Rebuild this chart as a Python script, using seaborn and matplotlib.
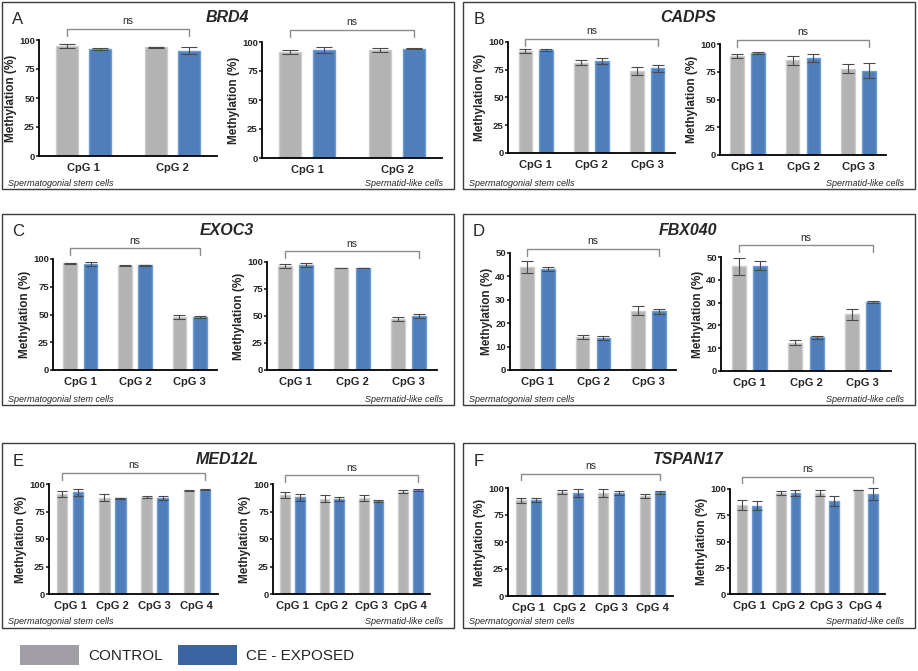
import pandas as pd
import seaborn as sns
import matplotlib.pyplot as plt
from matplotlib.patches import Rectangle, Patch

# ---- data ----
genes = ['BRD4', 'CADPS', 'EXOC3', 'FBX040', 'MED12L', 'TSPAN17']
letters = ['A', 'B', 'C', 'D', 'E', 'F']
cpg_sites = [
    ['CpG 1', 'CpG 2'],
    ['CpG 1', 'CpG 2', 'CpG 3'],
    ['CpG 1', 'CpG 2', 'CpG 3'],
    ['CpG 1', 'CpG 2', 'CpG 3'],
    ['CpG 1', 'CpG 2', 'CpG 3', 'CpG 4'],
    ['CpG 1', 'CpG 2', 'CpG 3', 'CpG 4'],
]
y_max = [100, 100, 100, 50, 100, 100]

# spermatogonial stem cells
ssc_control = [[94.8, 93.7], [91.8, 81.3, 74.3], [96.1, 94.0, 47.3],
               [44.0, 14.1, 25.4], [90.9, 87.5, 88.4, 93.9], [88.5, 96.5, 95.3, 92.9]]
ssc_control_err = [[1.5, 0.4], [2.0, 2.3, 3.6], [0.5, 0.3, 1.8],
                   [2.5, 1.0, 2.0], [2.3, 3.0, 0.7, 0.5], [2.2, 1.7, 4.0, 1.9]]
ssc_exposed = [[92.2, 90.8], [93.0, 82.8, 76.4], [95.5, 94.3, 47.6],
               [43.1, 13.6, 25.1], [92.4, 87.2, 87.2, 94.8], [89.1, 95.3, 95.3, 96.0]]
ssc_exposed_err = [[0.5, 2.9], [1.0, 2.4, 3.2], [1.6, 0.3, 0.6],
                   [0.9, 0.9, 1.0], [3.0, 0.5, 1.5, 0.5], [1.7, 3.4, 2.2, 1.6]]

# spermatid-like cells
spt_control = [[91.4, 93.1], [88.9, 85.2, 77.7], [96.0, 94.4, 47.2],
               [45.9, 12.5, 24.8], [89.9, 86.6, 87.2, 93.0], [84.8, 95.9, 95.9, 99.0]]
spt_control_err = [[2.0, 1.3], [1.7, 3.9, 4.2], [2.0, 0.4, 1.8],
                   [3.7, 0.9, 2.3], [2.7, 3.2, 2.4, 1.2], [4.7, 1.9, 2.7, 0.3]]
spt_exposed = [[93.1, 94.0], [92.2, 87.3, 75.9], [96.9, 94.4, 49.7],
               [46.2, 14.7, 30.2], [87.8, 86.3, 84.8, 94.5], [84.2, 95.9, 88.9, 95.3]]
spt_exposed_err = [[3.0, 0.4], [1.0, 3.3, 6.9], [1.8, 0.4, 2.0],
                   [2.0, 0.6, 0.3], [3.0, 2.1, 0.9, 0.7], [4.3, 2.7, 4.7, 5.8]]

groups = ['CONTROL', 'CE - EXPOSED']

# ---- layout (pixels) ----
W, H = 918, 671
panel_boxes = [(2, 2, 454, 189), (463, 2, 915, 189),
               (2, 214, 454, 405), (463, 214, 915, 405),
               (2, 443, 454, 628), (463, 443, 915, 628)]
axes_px = [
    [(39, 40, 217, 156), (262, 42, 442, 158)],
    [(508, 42, 675, 153), (720, 44, 886, 155)],
    [(53, 259, 217, 370), (267, 262, 437, 370)],
    [(510, 253, 676, 370), (721, 257, 891, 371)],
    [(49, 484, 218, 594), (273, 484, 430, 594)],
    [(508, 488, 673, 596), (730, 489, 885, 594)],
]
bracket_frac = [(1.095, 1.103), (1.027, 1.036), (1.096, 1.099),
                (1.034, 1.102), (1.10, 1.079), (1.13, 1.117)]
capsizes = {2: 6, 3: 4.5, 4: 3.5}

bar_gray, bar_blue = '#b3b3b3', '#4f7eba'
edge_gray, edge_blue = '#cdcdcd', '#6e9dd6'

sns.set_style('white')
plt.rcParams['font.family'] = ['Liberation Sans', 'DejaVu Sans']


def px_rect(x0, y0, x1, y1):
    return [x0 / W, 1 - y1 / H, (x1 - x0) / W, (y1 - y0) / H]


def draw_bars(ax, sites, ctrl, ctrl_err, ce, ce_err, ymax, bfrac):
    n = len(sites)
    df = pd.DataFrame({'CpG': sites * 2,
                       'Group': [groups[0]] * n + [groups[1]] * n,
                       'Methylation': ctrl + ce})
    sns.barplot(data=df, x='CpG', y='Methylation', hue='Group',
                palette=[bar_gray, bar_blue], saturation=1, width=0.75, gap=0.34,
                errorbar=None, legend=False, ax=ax, linewidth=1)
    for cont, edge, errs in zip(ax.containers, [edge_gray, edge_blue], [ctrl_err, ce_err]):
        for bar, e in zip(cont, errs):
            bar.set_edgecolor(edge)
            xc = bar.get_x() + bar.get_width() / 2
            ax.errorbar(xc, bar.get_height(), yerr=e, fmt='none', ecolor='#4a4a4a',
                        elinewidth=0.8, capsize=capsizes[n], capthick=0.8, clip_on=False, zorder=5)
    first = ax.containers[0][0]
    last = ax.containers[1][n - 1]
    x0 = first.get_x() + first.get_width() / 2
    x1 = last.get_x() + last.get_width() / 2
    yb = bfrac * ymax
    yt = yb - 0.06 * ymax
    ax.plot([x0, x0, x1, x1], [yt, yb, yb, yt], color='#8c8c8c', lw=1, clip_on=False)
    ax.annotate('ns', ((x0 + x1) / 2, yb), xytext=(0, 2), textcoords='offset points',
                ha='center', va='bottom', fontsize=7.5, annotation_clip=False)

    ax.set_xlim(-0.5, n - 0.5)
    ax.set_ylim(0, ymax)
    step = 10 if ymax == 50 else 25
    ax.set_yticks(range(0, ymax + 1, step))
    ax.set_xlabel('')
    ax.set_ylabel('Methylation (%)', fontsize=8.5, fontweight='bold', labelpad=1.5)
    sns.despine(ax=ax)
    for s in ['left', 'bottom']:
        ax.spines[s].set_linewidth(1.3)
        ax.spines[s].set_color('black')
    ax.tick_params(axis='y', length=2.5, width=1.2, pad=0.5, labelsize=6.8, direction='out', left=True)
    ax.tick_params(axis='x', length=0, pad=5, labelsize=8)
    for lbl in ax.get_xticklabels() + ax.get_yticklabels():
        lbl.set_fontweight('bold')


fig = plt.figure(figsize=(W / 100, H / 100), dpi=100)

for i, gene in enumerate(genes):
    bx0, by0, bx1, by1 = panel_boxes[i]
    fig.add_artist(Rectangle((bx0 / W, 1 - by1 / H), (bx1 - bx0) / W, (by1 - by0) / H,
                             transform=fig.transFigure, fill=False, ec='#3c3c3c', lw=1))
    fig.text((bx0 + 16) / W, 1 - (by0 + 18) / H, letters[i], fontsize=12,
             ha='center', va='center')
    fig.text((bx0 + 225) / W, 1 - (by0 + 16) / H, gene, fontsize=11.5,
             fontweight='bold', fontstyle='italic', ha='center', va='center')
    fig.text((bx0 + 6) / W, 1 - (by1 - 6) / H, 'Spermatogonial stem cells',
             fontsize=6.5, fontstyle='italic', ha='left', va='center')
    fig.text((bx1 - 11) / W, 1 - (by1 - 6) / H, 'Spermatid-like cells',
             fontsize=6.5, fontstyle='italic', ha='right', va='center')

    ax_l = fig.add_axes(px_rect(*axes_px[i][0]))
    ax_r = fig.add_axes(px_rect(*axes_px[i][1]))
    draw_bars(ax_l, cpg_sites[i], ssc_control[i], ssc_control_err[i],
              ssc_exposed[i], ssc_exposed_err[i], y_max[i], bracket_frac[i][0])
    draw_bars(ax_r, cpg_sites[i], spt_control[i], spt_control_err[i],
              spt_exposed[i], spt_exposed_err[i], y_max[i], bracket_frac[i][1])

handles = [Patch(facecolor='#a19fa5', edgecolor='none'),
           Patch(facecolor='#3b64a2', edgecolor='none')]
fig.legend(handles, groups, loc='center left', bbox_to_anchor=(20 / W, 1 - 655 / H),
           ncol=2, frameon=False, fontsize=11, handlelength=3.86, handleheight=1.63,
           handletextpad=0.6, columnspacing=1.0, borderpad=0, borderaxespad=0)

fig.savefig('out.png', dpi=100)
